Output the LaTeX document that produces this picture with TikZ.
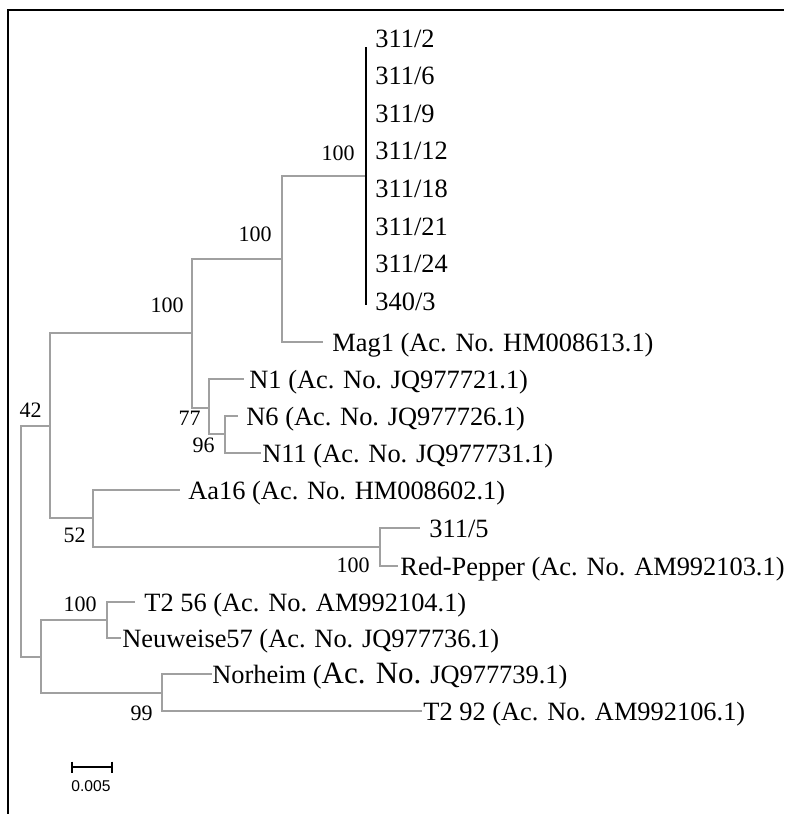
\documentclass[tikz,border=0pt]{standalone}
\usepackage{fontspec}
\setmainfont{Liberation Serif}
\newfontfamily\barfont{Liberation Sans}
\usetikzlibrary{positioning}
\definecolor{branchgray}{RGB}{160,160,160}
\tikzset{
  branch/.style={
    draw = branchgray,
    line width = 0.55pt
  },
  clade/.style={
    draw = black,
    line width = 0.6pt
  },
  frame/.style={
    draw = black,
    line width = 1.1pt
  },
  taxon/.style={
    anchor = base west,
    inner sep = 0pt,
    font = \fontsize{13.2}{15}\selectfont
  },
  boot/.style={
    anchor = base east,
    inner sep = 0pt,
    font = \fontsize{11}{13}\selectfont
  },
  barlabel/.style={
    anchor = base,
    inner sep = 0pt,
    font = \barfont\fontsize{7.8}{9}\selectfont
  }
}

\begin{document}
\begin{tikzpicture}[x=0.5pt, y=-0.5pt]
        \useasboundingbox (0,0) rectangle (784,814);
        % frame
        \coordinate (fBL) at (8,814);
        \coordinate (fTL) at (8,10);
        \coordinate (fTR) at (784,10);
        \draw[frame] (fBL) -- (fTL) -- (fTR);
        % internal nodes
        \coordinate (root) at (21,541);
        \coordinate (b42)  at (50,426);
        \coordinate (bUp)  at (192,333);
        \coordinate (bMag) at (282,259);
        \coordinate (bTop) at (366,176);
        \coordinate (b77)  at (209,408);
        \coordinate (b96)  at (225,434);
        \coordinate (b52)  at (93,518);
        \coordinate (bRed) at (380,547);
        \coordinate (low)  at (41,657);
        \coordinate (bT2)  at (107,620);
        \coordinate (b99)  at (162,693);
        % tips
        \coordinate (tTopA) at (366,47);
        \coordinate (tTopB) at (366,305);
        \coordinate (tMag)  at (323,342);
        \coordinate (tN1)   at (244,379);
        \coordinate (tN6)   at (238,416);
        \coordinate (tN11)  at (261,453);
        \coordinate (tAa)   at (180,490);
        \coordinate (t5)    at (420,528);
        \coordinate (tRed)  at (398,566);
        \coordinate (tT56)  at (135,602);
        \coordinate (tNeu)  at (121,638);
        \coordinate (tNor)  at (212,674);
        \coordinate (tT92)  at (422,711);
        % branches
        \draw[branch] (root) |- (b42);
        \draw[branch] (root) |- (low);
        \draw[branch] (b42) |- (bUp);
        \draw[branch] (b42) |- (b52);
        \draw[branch] (bUp) |- (bMag);
        \draw[branch] (bUp) |- (b77);
        \draw[branch] (bMag) |- (bTop);
        \draw[branch] (bMag) |- (tMag);
        \draw[clade] (tTopA) -- (tTopB);
        \draw[branch] (b77) |- (tN1);
        \draw[branch] (b77) |- (b96);
        \draw[branch] (b96) |- (tN6);
        \draw[branch] (b96) |- (tN11);
        \draw[branch] (b52) |- (tAa);
        \draw[branch] (b52) |- (bRed);
        \draw[branch] (bRed) |- (t5);
        \draw[branch] (bRed) |- (tRed);
        \draw[branch] (low) |- (bT2);
        \draw[branch] (low) |- (b99);
        \draw[branch] (bT2) |- (tT56);
        \draw[branch] (bT2) |- (tNeu);
        \draw[branch] (b99) |- (tNor);
        \draw[branch] (b99) |- (tT92);
        % taxa
        \foreach \lab [count=\i from 0] in {311/2,311/6,311/9,311/12,311/18,311/21,311/24,340/3}
          \node[taxon] (s\i) at (375,{47+37.6*\i}) {\lab};
        \node[taxon] (mag) at (332,351) {Mag1 (Ac. No. HM008613.1)};
        \node[taxon] (n1)  at (249,388) {N1 (Ac. No. JQ977721.1)};
        \node[taxon] (n6)  at (246,425) {N6 (Ac. No. JQ977726.1)};
        \node[taxon] (n11) at (262,462) {N11 (Ac. No. JQ977731.1)};
        \node[taxon] (aa)  at (188,499) {Aa16 (Ac. No. HM008602.1)};
        \node[taxon] (s5)  at (429,537) {311/5};
        \node[taxon] (red) at (400,575) {Red-Pepper (Ac. No. AM992103.1)};
        \node[taxon] (t56) at (144,611) {T2 56 (Ac. No. AM992104.1)};
        \node[taxon] (neu) at (122,647) {Neuweise57 (Ac. No. JQ977736.1)};
        \node[taxon] (nor) at (212,683) {Norheim ({\fontsize{15.5}{17}\selectfont Ac. No.} JQ977739.1)};
        \node[taxon] (t92) at (423,720) {T2 92 (Ac. No. AM992106.1)};
        % bootstrap values
        \node[boot] at (355,160) {100};
        \node[boot] at (272,241) {100};
        \node[boot] at (184,312) {100};
        \node[boot] at (42,417) {42};
        \node[boot] at (201,425) {77};
        \node[boot] at (215,452) {96};
        \node[boot] at (86,542) {52};
        \node[boot] at (370,572) {100};
        \node[boot] at (97,611) {100};
        \node[boot] at (153,720) {99};
        % scale bar
        \coordinate (sbL) at (72,767);
        \coordinate (sbR) at (112,767);
        \draw[line width=0.65pt] (sbL) -- (sbR);
        \draw[line width=0.65pt] ([yshift=2.75pt]sbL) -- ([yshift=-2.75pt]sbL);
        \draw[line width=0.65pt] ([yshift=2.75pt]sbR) -- ([yshift=-2.75pt]sbR);
        \node[barlabel] (sbl) at (91,791) {0.005};
\end{tikzpicture}
\end{document}
